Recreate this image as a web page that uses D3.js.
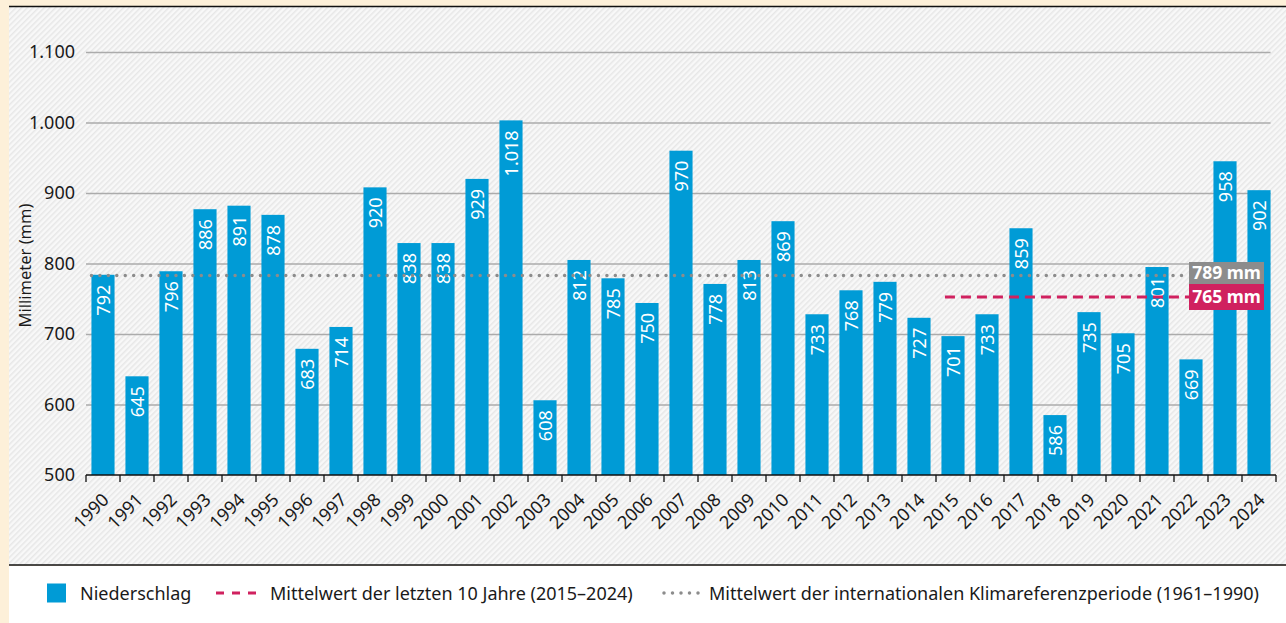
<!DOCTYPE html>
<html>
<head>
<meta charset="utf-8">
<script src="https://cdn.jsdelivr.net/npm/d3@7"></script>
<style>
  body { margin: 0; background: #fff; }
  svg { display: block; font-family: "Noto Sans", sans-serif; }
</style>
</head>
<body>
<svg id="chart" width="1286" height="623"></svg>
<script>
// years on the x axis
const years = d3.range(1990, 2025).map(String);

// bar heights as drawn in the picture (mm)
const barHeights = [784, 640, 789, 877, 882, 869, 679, 710, 908, 829,
  829, 920, 1003, 606, 805, 779, 744, 960, 771, 805,
  860, 728, 762, 774, 723, 697, 728, 850, 585, 731,
  701, 795, 664, 945, 904];

// value labels printed inside the bars
const valueLabels = [792, 645, 796, 886, 891, 878, 683, 714, 920, 838,
  838, 929, 1018, 608, 812, 785, 750, 970, 778, 813,
  869, 733, 768, 779, 727, 701, 733, 859, 586, 735,
  705, 801, 669, 958, 902];

const yTicks = [500, 600, 700, 800, 900, 1000, 1100];

// reference lines: position as drawn, text as printed
const refClimate = { drawnAt: 783, label: "789 mm", from: "1990" };
const refDecade = { drawnAt: 752.5, label: "765 mm", from: "2015" };

const legendItems = [
  "Niederschlag",
  "Mittelwert der letzten 10 Jahre (2015–2024)",
  "Mittelwert der internationalen Klimareferenzperiode (1961–1990)"
];

const blue = "#009bd6";
const magenta = "#d0215f";
const grey = "#8c8c8c";
const ink = "#1a1a1a";

const de = d3.formatLocale({ decimal: ",", thousands: ".", grouping: [3], currency: ["", " €"] });
const fmt = de.format(",d");

const svg = d3.select("#chart");

// background: cream frame, hatched plot panel, white legend strip
const defs = svg.append("defs");
const pat = defs.append("pattern")
  .attr("id", "hatch")
  .attr("patternUnits", "userSpaceOnUse")
  .attr("width", 4)
  .attr("height", 4)
  .attr("patternTransform", "rotate(45)");
pat.append("rect").attr("width", 4).attr("height", 4).attr("fill", "#f8f8f8");
pat.append("rect").attr("width", 1.5).attr("height", 4).attr("fill", "#e7e7e7");

svg.append("rect").attr("width", 1286).attr("height", 623).attr("fill", "#fdf0d9");
svg.append("rect").attr("x", 9).attr("y", 7).attr("width", 1277).attr("height", 558).attr("fill", "url(#hatch)");
svg.append("rect").attr("x", 9).attr("y", 566).attr("width", 1277).attr("height", 57).attr("fill", "#fff");
svg.append("line").attr("x1", 9).attr("x2", 1286).attr("y1", 6.5).attr("y2", 6.5).attr("stroke", "#111").attr("stroke-width", 1.5);
svg.append("line").attr("x1", 9).attr("x2", 1286).attr("y1", 565).attr("y2", 565).attr("stroke", "#111").attr("stroke-width", 1.5);

// scales
const x = d3.scaleBand()
  .domain(years)
  .range([86, 1276])
  .paddingInner(0.32)
  .paddingOuter(0.16);

const y = d3.scaleLinear()
  .domain([500, 1100])
  .range([475, 52]);

const gridRight = x(years[years.length - 1]) + x.bandwidth();

// y axis with gridlines
const yAxis = svg.append("g")
  .attr("transform", "translate(86,0)")
  .call(d3.axisLeft(y)
    .tickValues(yTicks)
    .tickSize(-(gridRight - 86))
    .tickPadding(11)
    .tickFormat(fmt));
yAxis.select(".domain").remove();
yAxis.selectAll(".tick line")
  .attr("stroke", "#ababab")
  .attr("stroke-width", 1.6)
  .filter(d => d === 500).remove();
yAxis.selectAll(".tick text")
  .attr("font-size", 18)
  .attr("fill", ink)
  .attr("font-family", "Noto Sans, sans-serif");

svg.append("text")
  .attr("transform", "translate(31," + (y(800) + 2) + ") rotate(-90)")
  .attr("text-anchor", "middle")
  .attr("font-size", 16.5)
  .attr("fill", ink)
  .text("Millimeter (mm)");

// bars
const bars = svg.append("g");
bars.selectAll("rect")
  .data(years)
  .join("rect")
  .attr("x", d => x(d))
  .attr("y", (d, i) => y(barHeights[i]))
  .attr("width", x.bandwidth())
  .attr("height", (d, i) => y(500) - y(barHeights[i]))
  .attr("fill", blue);

bars.selectAll("text")
  .data(years)
  .join("text")
  .attr("transform", (d, i) => "translate(" + (x(d) + x.bandwidth() / 2 + 6.5) + "," + (y(barHeights[i]) + 10) + ") rotate(-90)")
  .attr("text-anchor", "end")
  .attr("font-size", 18)
  .attr("fill", "#fff")
  .text((d, i) => fmt(valueLabels[i]));

// reference lines
const lineEnd = 1189;
svg.append("line")
  .attr("x1", x(refClimate.from))
  .attr("x2", lineEnd)
  .attr("y1", y(refClimate.drawnAt))
  .attr("y2", y(refClimate.drawnAt))
  .attr("stroke", grey)
  .attr("stroke-width", 3.5)
  .attr("stroke-linecap", "round")
  .attr("stroke-dasharray", "0 8.45");

svg.append("line")
  .attr("x1", x(refDecade.from) + 3.5)
  .attr("x2", lineEnd)
  .attr("y1", y(refDecade.drawnAt))
  .attr("y2", y(refDecade.drawnAt))
  .attr("stroke", magenta)
  .attr("stroke-width", 3)
  .attr("stroke-dasharray", "10 6");

// value boxes at the right end of the reference lines
const boxW = 75;
const decY = y(refDecade.drawnAt);
svg.append("rect")
  .attr("x", lineEnd).attr("y", decY - 13)
  .attr("width", boxW).attr("height", 26)
  .attr("fill", magenta);
svg.append("text")
  .attr("x", lineEnd + boxW / 2).attr("y", decY + 6.5)
  .attr("text-anchor", "middle")
  .attr("font-size", 17.5).attr("font-weight", "bold")
  .attr("fill", "#fff")
  .text(refDecade.label);

svg.append("rect")
  .attr("x", lineEnd).attr("y", decY - 35)
  .attr("width", boxW).attr("height", 22)
  .attr("fill", grey);
svg.append("text")
  .attr("x", lineEnd + boxW / 2).attr("y", decY - 17.5)
  .attr("text-anchor", "middle")
  .attr("font-size", 17.5).attr("font-weight", "bold")
  .attr("fill", "#fff")
  .text(refClimate.label);

// x axis: baseline, boundary ticks, rotated year labels
const xAxis = svg.append("g");
xAxis.append("line")
  .attr("x1", x.range()[0]).attr("x2", x.range()[1])
  .attr("y1", y(500)).attr("y2", y(500))
  .attr("stroke", "#111").attr("stroke-width", 1.5);

const edges = years.map(d => x(d) - x.step() * x.paddingOuter()).concat([x.range()[1]]);
xAxis.selectAll("line.tk")
  .data(edges)
  .join("line")
  .attr("class", "tk")
  .attr("x1", d => d).attr("x2", d => d)
  .attr("y1", y(500)).attr("y2", y(500) + 7)
  .attr("stroke", "#111").attr("stroke-width", 1.3);

xAxis.selectAll("text")
  .data(years)
  .join("text")
  .attr("transform", d => "translate(" + (x(d) + x.bandwidth() / 2 + 7) + ",501) rotate(-45)")
  .attr("text-anchor", "end")
  .attr("font-size", 18)
  .attr("fill", ink)
  .text(d => d);

// legend
const lg = svg.append("g").attr("font-size", 18).attr("fill", ink);
const ly = 593;
lg.append("rect").attr("x", 47).attr("y", ly - 9.5).attr("width", 19).attr("height", 19).attr("fill", blue);
lg.append("text").attr("x", 80).attr("y", ly + 6.5).text(legendItems[0]);

lg.append("line")
  .attr("x1", 216).attr("x2", 256).attr("y1", ly).attr("y2", ly)
  .attr("stroke", magenta).attr("stroke-width", 3).attr("stroke-dasharray", "8 8");
lg.append("text").attr("x", 270).attr("y", ly + 6.5).text(legendItems[1]);

lg.append("line")
  .attr("x1", 664).attr("x2", 700).attr("y1", ly).attr("y2", ly)
  .attr("stroke", grey).attr("stroke-width", 3.5)
  .attr("stroke-linecap", "round").attr("stroke-dasharray", "0 8.5");
lg.append("text").attr("x", 709).attr("y", ly + 6.5).text(legendItems[2]);
</script>
</body>
</html>
